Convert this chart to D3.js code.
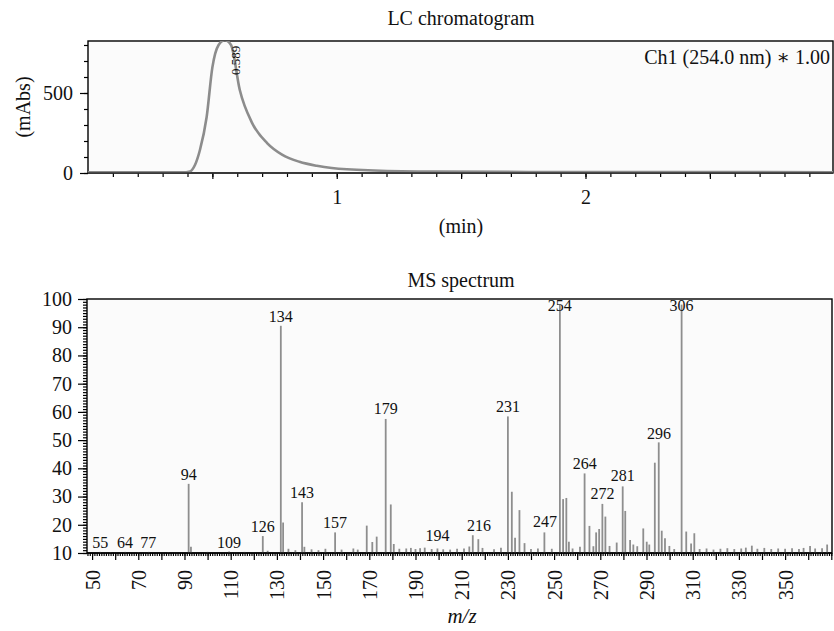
<!DOCTYPE html>
<html>
<head>
<meta charset="utf-8">
<script src="https://cdn.jsdelivr.net/npm/d3@7"></script>
<style>
  body { margin: 0; background: #fff; }
  svg text { font-family: "Liberation Serif", "DejaVu Serif", serif; fill: #111; }
  .frame { fill: #fbfbfb; stroke: #000; stroke-width: 1.4; }
  .axis path { display: none; }
  .axis line { stroke: #000; stroke-width: 1.2; }
</style>
</head>
<body>
<div id="chart"></div>
<script>
// LC chromatogram (time in min, absorbance in mAbs)
const lcTime = [0, 0.38, 0.41, 0.43, 0.45, 0.477, 0.50, 0.525, 0.55, 0.575, 0.61, 0.66, 0.72, 0.78, 0.85, 0.92, 0.98, 1.15, 1.4, 2.0, 3.0];
const lcAbs  = [4, 4, 10, 50, 144, 350, 660, 800, 830, 800, 520, 312, 187, 115, 70, 45, 31, 16, 9, 6, 5];
const lcYTicks = [0, 500];
const lcXTicks = [1, 2];

// MS spectrum sticks (m/z as read on the axis, relative intensity)
const msMz = [
  53.5, 58, 64.3, 70, 74.5, 83, 91.8, 92.8, 100, 109.3, 116, 123.9, 126, 131.7, 132.7, 135, 138,
  140.9, 141.9, 145, 148, 151, 155.2, 158, 163.1, 165, 168.9, 171.3, 173.2, 177.1, 179.3, 180.6,
  183, 186, 188, 190, 192, 194, 197, 199.5, 202, 205, 208, 211, 213.3, 214.8, 217.2, 219, 224, 227,
  230, 231.7, 233.1, 235, 237.2, 240, 243, 245.8, 249, 252.5, 253.9, 255.3, 256.4, 258, 261.2,
  263.2, 265.3, 267, 268.2, 269.5, 270.9, 272.2, 274, 277.1, 279.7, 280.8, 282.9, 284.3, 286,
  288.6, 290.1, 291.2, 293.6, 295.3, 296.6, 298, 299.9, 302, 305.2, 307.2, 309.3, 310.7, 313, 316,
  319, 322, 325, 328, 331, 333, 335.6, 338, 341, 344, 347, 350, 353, 356, 358, 360.8, 363, 366, 368.2
];
const msInt = [
  10.4, 10.3, 10.4, 10.3, 10.4, 10.3, 34.5, 12.2, 10.4, 10.5, 10.4, 16, 10.8, 90.5, 20.8, 11.5, 11,
  28, 12.2, 11.3, 11, 11.5, 17.3, 11.2, 11.6, 11.2, 19.7, 13.9, 15.8, 57.5, 27.2, 13.2,
  11.5, 11.6, 11.8, 11.4, 11.7, 11.9, 11.4, 11.6, 11.3, 11.2, 11.5, 11.6, 12.3, 16.3, 14.9, 11.8, 11.3, 11.9,
  58.4, 31.7, 15.4, 25.2, 13.5, 11.4, 11.6, 17.3, 11.5, 98, 29.1, 29.5, 14, 11.6, 12.2,
  38.2, 19.6, 12.4, 17.3, 18.5, 27.4, 22.9, 12.5, 13.7, 33.6, 24.9, 14.6, 13, 12.4,
  18.7, 14, 13, 42, 49.2, 17.9, 15.2, 12.5, 11.4, 98, 17.6, 13.4, 17, 11.4, 11.6,
  11.2, 11.5, 11.7, 11.4, 11.6, 11.9, 12.6, 11.5, 11.8, 11.4, 11.6, 11.5, 11.7, 11.4, 11.8, 12.5, 11.6, 11.7, 13
];

// peak annotations: text, position on the axis, height of the peak below it
const msLabelText = ['55', '64', '77', '94', '109', '126', '134', '143', '157', '179', '194', '216', '231', '247', '254', '264', '272', '281', '296', '306'];
const msLabelMz   = [53.5, 64.3, 74.3, 91.8, 109.3, 123.9, 131.7, 140.9, 155.2, 177.1, 199.5, 217.5, 230, 246.1, 252.5, 263.3, 270.9, 279.7, 295.4, 305.2];
const msLabelInt  = [10.4, 10.4, 10.4, 34.5, 10.4, 16.2, 90.5, 28, 17.5, 57.7, 12.9, 16.5, 58.7, 17.9, 100, 38.3, 27.6, 34.1, 48.9, 100];

const msYTicks = [10, 20, 30, 40, 50, 60, 70, 80, 90, 100];
const msXTicks = [50, 70, 90, 110, 130, 150, 170, 190, 210, 230, 250, 270, 290, 310, 330, 350];

const W = 834, H = 631;
const svg = d3.select('#chart').append('svg').attr('width', W).attr('height', H);

// ---------- LC chromatogram ----------
const lc = { left: 88, right: 833, top: 41, bottom: 173 };
const xLc = d3.scaleLinear().domain([0, 2.995]).range([lc.left, lc.right]);
const yLc = d3.scaleLinear().domain([0, 825]).range([lc.bottom, lc.top]);

svg.append('rect').attr('class', 'frame')
  .attr('x', lc.left).attr('y', lc.top)
  .attr('width', lc.right - lc.left).attr('height', lc.bottom - lc.top);

svg.append('clipPath').attr('id', 'clipLc').append('rect')
  .attr('x', lc.left).attr('y', lc.top)
  .attr('width', lc.right - lc.left).attr('height', lc.bottom - lc.top);

const lcPoints = lcTime.map((t, i) => [t, lcAbs[i]]);
svg.append('path')
  .datum(lcPoints)
  .attr('clip-path', 'url(#clipLc)')
  .attr('fill', 'none')
  .attr('stroke', '#8c8c8c')
  .attr('stroke-width', 2.6)
  .attr('d', d3.line().x(d => xLc(d[0])).y(d => yLc(d[1])).curve(d3.curveMonotoneX));

// y axis
svg.append('g').attr('class', 'axis').attr('transform', `translate(${lc.left},0)`)
  .call(d3.axisLeft(yLc).tickValues(d3.range(0, 801, 100)).tickSize(4).tickFormat(''));
svg.append('g').attr('class', 'axis').attr('transform', `translate(${lc.left},0)`)
  .call(d3.axisLeft(yLc).tickValues(lcYTicks).tickSize(8).tickPadding(7))
  .selectAll('text').style('font-size', '20px');

// x axis
svg.append('g').attr('class', 'axis').attr('transform', `translate(0,${lc.bottom})`)
  .call(d3.axisBottom(xLc).tickValues(d3.range(1, 30).map(d => d / 10)).tickSize(4).tickFormat(''));
svg.append('g').attr('class', 'axis').attr('transform', `translate(0,${lc.bottom})`)
  .call(d3.axisBottom(xLc).tickValues([0.5, 1, 1.5, 2, 2.5]).tickSize(6).tickPadding(11)
    .tickFormat(d => lcXTicks.includes(d) ? d : ''))
  .selectAll('text').style('font-size', '20px');

svg.append('line')
  .attr('x1', lc.left).attr('x2', lc.right).attr('y1', lc.bottom).attr('y2', lc.bottom)
  .attr('stroke', '#333').attr('stroke-width', 1.6);

svg.append('text').attr('x', 461).attr('y', 25).attr('text-anchor', 'middle')
  .style('font-size', '20px').text('LC chromatogram');
svg.append('text').attr('x', 461).attr('y', 233).attr('text-anchor', 'middle')
  .style('font-size', '20px').text('(min)');
svg.append('text').attr('transform', 'translate(30,107) rotate(-90)').attr('text-anchor', 'middle')
  .style('font-size', '20px').text('(mAbs)');
svg.append('text').attr('x', 830).attr('y', 64).attr('text-anchor', 'end')
  .style('font-size', '20px').text('Ch1 (254.0 nm) \u2217 1.00');
svg.append('text').attr('transform', 'translate(240,75) rotate(-90)')
  .style('font-size', '13px').text('0.589');

// ---------- MS spectrum ----------
const ms = { left: 87, right: 832, top: 299, bottom: 553 };
const xMs = d3.scaleLinear().domain([47.8, 370.3]).range([ms.left, ms.right]);
const yMs = d3.scaleLinear().domain([10, 100]).range([ms.bottom, ms.top]);

svg.append('rect').attr('class', 'frame')
  .attr('x', ms.left).attr('y', ms.top)
  .attr('width', ms.right - ms.left).attr('height', ms.bottom - ms.top);

svg.append('g')
  .selectAll('line')
  .data(msMz.map((m, i) => ({ m, v: msInt[i] })))
  .join('line')
  .attr('x1', d => xMs(d.m)).attr('x2', d => xMs(d.m))
  .attr('y1', ms.bottom).attr('y2', d => yMs(d.v))
  .attr('stroke', '#8e8e8e')
  .attr('stroke-width', 1.8);

svg.append('g')
  .selectAll('text')
  .data(msLabelText.map((t, i) => ({ t, m: msLabelMz[i], v: msLabelInt[i] })))
  .join('text')
  .attr('x', d => xMs(d.m))
  .attr('y', d => Math.max(yMs(d.v) - 4, yMs(95.8)))
  .attr('text-anchor', 'middle')
  .style('font-size', '16px')
  .text(d => d.t);

// y axis
svg.append('g').attr('class', 'axis').attr('transform', `translate(${ms.left},0)`)
  .call(d3.axisLeft(yMs).tickValues(d3.range(10, 101, 1)).tickSize(4).tickFormat(''));
svg.append('g').attr('class', 'axis').attr('transform', `translate(${ms.left},0)`)
  .call(d3.axisLeft(yMs).tickValues(msYTicks).tickSize(9).tickPadding(6))
  .selectAll('text').style('font-size', '20px');

// x axis
svg.append('g').attr('class', 'axis').attr('transform', `translate(0,${ms.bottom})`)
  .call(d3.axisBottom(xMs).tickValues(d3.range(48, 371, 1)).tickSize(3).tickFormat(''));
svg.append('g').attr('class', 'axis').attr('transform', `translate(0,${ms.bottom})`)
  .call(d3.axisBottom(xMs).tickValues(d3.range(50, 371, 10)).tickSize(7)
    .tickFormat(d => msXTicks.includes(d) ? d : ''))
  .selectAll('text')
  .style('font-size', '20px')
  .attr('text-anchor', 'end')
  .attr('transform', 'rotate(-90)')
  .attr('x', -17).attr('y', 0).attr('dy', '0.35em');

svg.append('line')
  .attr('x1', ms.left).attr('x2', ms.right).attr('y1', ms.bottom).attr('y2', ms.bottom)
  .attr('stroke', '#000').attr('stroke-width', 1.6);

svg.append('text').attr('x', 461).attr('y', 287).attr('text-anchor', 'middle')
  .style('font-size', '20px').text('MS spectrum');
svg.append('text').attr('x', 462).attr('y', 623).attr('text-anchor', 'middle')
  .style('font-size', '21px').style('font-style', 'italic').text('m/z');
</script>
</body>
</html>
